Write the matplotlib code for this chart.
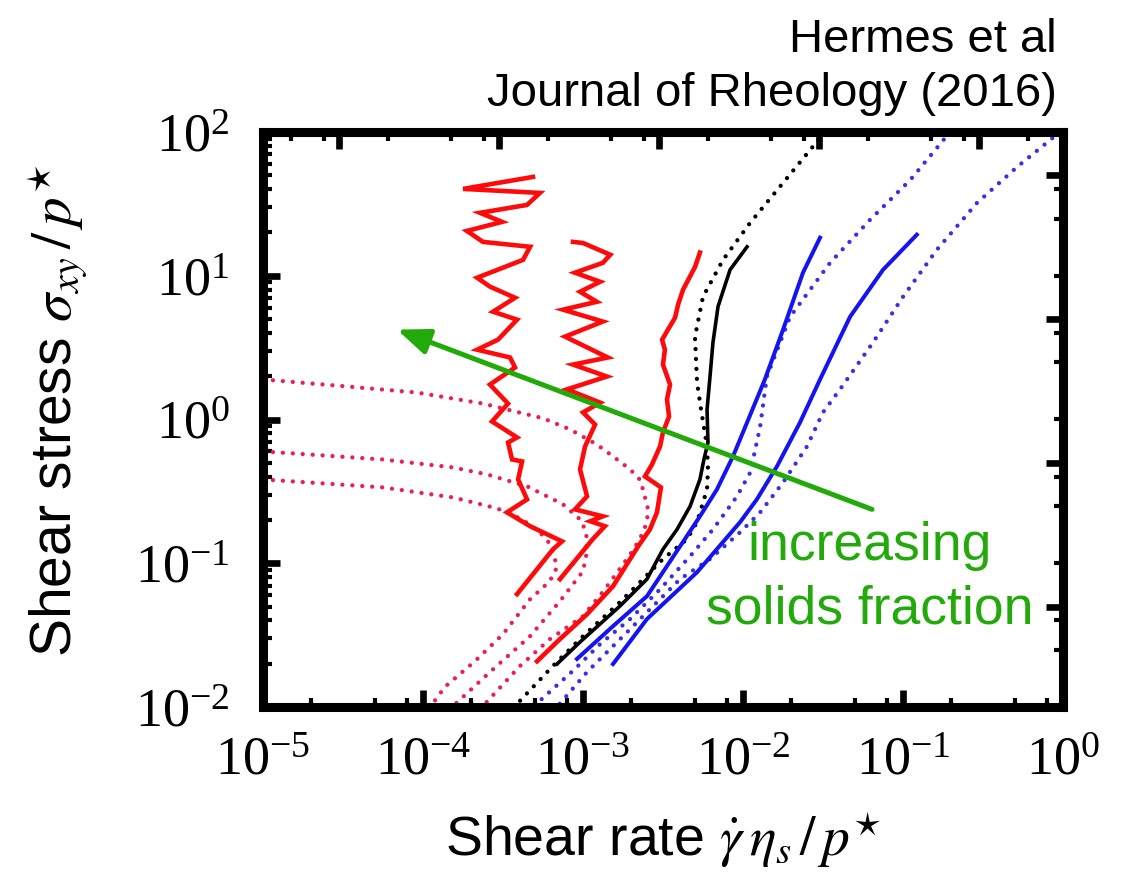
import numpy as np
import matplotlib
matplotlib.use("Agg")
import matplotlib.pyplot as plt
from matplotlib.ticker import LogLocator, NullFormatter

plt.rcParams['mathtext.fontset'] = 'stix'
plt.rcParams['font.family'] = ['Liberation Sans', 'DejaVu Sans']

# ---------------- data ----------------
# simulation flow curves (solid)
r1_x = [4.87e-4, 1.78e-4, 5.38e-4, 4.47e-4, 2.27e-4, 3.12e-4, 1.88e-4, 2.37e-4, 4.67e-4, 4.22e-4,
        2.18e-4, 2.62e-4, 3.76e-4, 2.74e-4, 3.87e-4, 2.94e-4, 2.18e-4, 3.50e-4, 3.76e-4, 2.62e-4,
        3.40e-4, 2.70e-4, 3.87e-4, 3.40e-4, 3.60e-4, 4.16e-4, 3.93e-4, 4.47e-4, 3.35e-4, 4.67e-4,
        7.39e-4, 6.49e-4, 3.87e-4]
r1_y = [48.7, 40.2, 37.7, 31.1, 27.4, 23.7, 20.5, 17.2, 15.9, 12.9,
        9.69, 8.40, 7.03, 5.62, 4.95, 3.59, 3.06, 2.70, 2.30, 1.75,
        1.29, 0.969, 0.750, 0.692, 0.527, 0.511, 0.383, 0.278, 0.226, 0.181,
        0.142, 0.125, 0.061]

r2_x = [8.66e-4, 1.0e-3, 1.48e-3, 1.33e-3, 8.91e-4, 1.28e-3, 9.58e-4, 1.22e-3, 7.50e-4, 1.33e-3,
        7.72e-4, 1.43e-3, 8.66e-4, 1.41e-3, 7.94e-4, 1.28e-3, 1.0e-3, 1.19e-3, 1.03e-3, 9.58e-4,
        1.06e-3, 8.91e-4, 1.33e-3, 1.11e-3, 1.37e-3, 1.15e-3, 7.18e-4]
r2_y = [17.2, 16.9, 14.0, 12.3, 10.5, 9.08, 7.74, 6.59, 5.81, 4.80,
        3.77, 2.70, 2.41, 1.99, 1.62, 1.31, 1.12, 0.923, 0.649, 0.450,
        0.292, 0.237, 0.212, 0.196, 0.181, 0.147, 0.0775]

r3_x = [5.38e-3, 5.01e-3, 4.22e-3, 3.93e-3, 3.76e-3, 3.12e-3, 3.25e-3, 3.16e-3, 3.50e-3, 3.35e-3,
        3.45e-3, 3.16e-3, 3.03e-3, 2.70e-3, 2.44e-3, 3.07e-3, 2.90e-3, 2.62e-3, 2.21e-3, 1.54e-3,
        1.06e-3, 7.18e-4, 5.16e-4]
r3_y = [14.5, 11.5, 8.0, 6.30, 5.11, 3.59, 3.06, 2.41, 1.75, 1.38,
        1.05, 0.813, 0.649, 0.487, 0.402, 0.337, 0.226, 0.172, 0.131, 0.0692,
        0.0442, 0.0297, 0.0208]

k_x = [1.06e-2, 8.30e-3, 6.98e-3, 6.49e-3, 6.22e-3, 5.96e-3, 6.04e-3, 5.70e-3, 5.38e-3, 4.67e-3,
       3.87e-3, 3.16e-3, 2.51e-3, 1.70e-3, 9.58e-4, 6.88e-4]
k_y = [15.9, 11.0, 6.10, 3.43, 1.99, 1.17, 0.692, 0.527, 0.383, 0.249,
       0.172, 0.125, 0.0775, 0.0503, 0.0283, 0.0199]

b1_x = [3.03e-2, 2.37e-2, 1.78e-2, 1.37e-2, 1.06e-2, 8.66e-3, 6.88e-3, 5.38e-3, 4.04e-3, 2.51e-3,
        1.54e-3, 9.17e-4]
b1_y = [18.4, 10.5, 4.22, 1.90, 0.953, 0.554, 0.327, 0.212, 0.131, 0.059, 0.0365, 0.0216]

b2_x = [0.122, 7.50e-2, 4.67e-2, 3.03e-2, 2.27e-2, 1.63e-2, 1.22e-2, 9.58e-3, 5.16e-3, 2.51e-3, 1.54e-3]
b2_y = [19.3, 11.0, 5.19, 1.90, 0.953, 0.472, 0.278, 0.193, 0.0866, 0.0409, 0.0199]

# model curves (dotted)
ra_x = [1e-5, 3.50e-5, 9.17e-5, 2.37e-4, 5.62e-4, 8.30e-4, 1.22e-3, 1.54e-3, 1.97e-3, 2.25e-3,
        2.37e-3, 2.55e-3, 2.52e-3, 2.44e-3, 2.25e-3, 1.97e-3, 1.37e-3, 1.0e-3, 6.22e-4, 4.04e-4, 2.34e-4]
ra_y = [1.90, 1.69, 1.54, 1.29, 1.02, 0.853, 0.670, 0.554, 0.450, 0.385,
        0.327, 0.237, 0.205, 0.178, 0.145, 0.115, 0.0659, 0.0428, 0.0297, 0.0193, 0.01]

rb_x = [1e-5, 5.62e-5, 1.54e-4, 2.51e-4, 4.47e-4, 7.50e-4, 9.58e-4, 1.03e-3, 1.06e-3, 1.05e-3,
        1.0e-3, 7.18e-4, 4.67e-4, 2.62e-4, 1.52e-4]
rb_y = [0.60, 0.527, 0.464, 0.415, 0.343, 0.257, 0.202, 0.172, 0.147, 0.115,
        0.0880, 0.0545, 0.0311, 0.0175, 0.01]

rc_x = [1e-5, 5.62e-5, 1.54e-4, 2.90e-4, 4.16e-4, 5.38e-4, 6.20e-4, 6.49e-4, 6.70e-4, 6.88e-4,
        6.20e-4, 4.67e-4, 3.16e-4, 2.11e-4, 1.37e-4, 1.11e-4]
rc_y = [0.383, 0.337, 0.287, 0.241, 0.202, 0.164, 0.137, 0.119, 0.105, 0.0938,
        0.0750, 0.0562, 0.0321, 0.0208, 0.0138, 0.01]

kd_x = [3.25e-2, 1.78e-2, 1.11e-2, 7.50e-3, 5.62e-3, 5.01e-3, 5.16e-3, 5.47e-3, 5.96e-3, 6.04e-3,
        5.96e-3, 5.16e-3, 4.47e-3, 3.16e-3, 2.27e-3, 1.70e-3, 9.58e-4, 6.49e-4, 3.71e-4]
kd_y = [100, 44.3, 23.4, 12.9, 7.14, 3.77, 1.81, 1.17, 0.649, 0.450,
        0.327, 0.193, 0.147, 0.107, 0.0738, 0.0536, 0.0297, 0.0193, 0.01]

b1d_x = [0.197, 0.111, 6.22e-2, 3.50e-2, 1.97e-2, 1.41e-2, 1.28e-2, 1.11e-2, 9.17e-3, 6.49e-3,
         4.67e-3, 3.03e-3, 1.97e-3, 1.28e-3, 8.91e-4, 4.87e-4]
b1d_y = [100, 46.4, 24.5, 12.3, 5.19, 1.99, 0.893, 0.428, 0.292, 0.172,
         0.112, 0.0659, 0.0409, 0.0274, 0.0184, 0.01]

b2d_x = [0.957, 0.516, 0.290, 0.163, 0.1, 6.49e-2, 4.04e-2, 3.16e-2, 2.51e-2, 1.78e-2,
         1.28e-2, 9.58e-3, 6.22e-3, 4.04e-3, 2.74e-3, 1.78e-3, 1.28e-3, 1.06e-3, 6.88e-4]
b2d_y = [100, 57.1, 32.1, 15.2, 7.14, 3.43, 1.62, 1.12, 0.649, 0.365,
         0.226, 0.164, 0.107, 0.0775, 0.0503, 0.0311, 0.0216, 0.0175, 0.01]

arrow_tail = (6.40e-2, 0.237)
arrow_tip = (6.88e-5, 4.22)

# ---------------- styling ----------------
RED = '#ff0a0a'
RED_DOT = '#ea1f55'
BLUE = '#1414f0'
BLUE_DOT = '#3b2fe6'
GREEN = '#22aa0a'
DOT = (0, (0.01, 2.3))
DOT_KW = dict(lw=3.1, ls=DOT, dash_capstyle='round')

fig = plt.figure(figsize=(11.28, 8.83), dpi=100)
ax = fig.add_axes([263 / 1128, 1 - 707 / 883, 800 / 1128, 575 / 883])
ax.set_xscale('log')
ax.set_yscale('log')
ax.set_xlim(1e-5, 1)
ax.set_ylim(1e-2, 1e2)

for xs, ys in [(ra_x, ra_y), (rb_x, rb_y), (rc_x, rc_y)]:
    ax.plot(xs, ys, color=RED_DOT, **DOT_KW)
ax.plot(kd_x, kd_y, color='black', **DOT_KW)
ax.plot(b1d_x, b1d_y, color=BLUE_DOT, **DOT_KW)
ax.plot(b2d_x, b2d_y, color=BLUE_DOT, **DOT_KW)

for xs, ys in [(r1_x, r1_y), (r2_x, r2_y), (r3_x, r3_y)]:
    ax.plot(xs, ys, color=RED, lw=3.3, solid_joinstyle='miter')
ax.plot(k_x, k_y, color='black', lw=2.6)
ax.plot(b1_x, b1_y, color=BLUE, lw=2.9)
ax.plot(b2_x, b2_y, color=BLUE, lw=2.9)

ax.annotate('', xy=arrow_tip, xytext=arrow_tail,
            arrowprops=dict(arrowstyle='-|>,head_length=0.75,head_width=0.3',
                            color=GREEN, lw=3.6, mutation_scale=26,
                            shrinkA=0, shrinkB=0))

# ticks
ax.xaxis.set_major_locator(LogLocator(base=10, numticks=20))
ax.xaxis.set_minor_locator(LogLocator(base=10, subs=(2, 5, 8), numticks=20))
ax.xaxis.set_minor_formatter(NullFormatter())
ax.yaxis.set_major_locator(LogLocator(base=10, numticks=20))
ax.yaxis.set_minor_locator(LogLocator(base=10, subs=np.arange(2, 10), numticks=20))
ax.yaxis.set_minor_formatter(NullFormatter())
ax.tick_params(which='both', direction='in', top=False, right=False)
ax.tick_params(which='major', length=12, width=4.8, labelsize=39, pad=21)
ax.tick_params(axis='y', which='major', pad=24)
ax.tick_params(which='minor', length=6.5, width=3)
for lab in ax.get_xticklabels() + ax.get_yticklabels():
    lab.set_fontfamily('Liberation Serif')
for sp in ax.spines.values():
    sp.set_linewidth(6.5)

secx = ax.secondary_xaxis('top', functions=(lambda x: x / 3.0, lambda x: x * 3.0))
secx.xaxis.set_major_locator(LogLocator(base=10, numticks=20))
secx.xaxis.set_minor_locator(LogLocator(base=10, subs=(2, 5, 8), numticks=20))
secx.tick_params(which='both', direction='in', labeltop=False)
secx.tick_params(which='major', length=12, width=4.8)
secx.tick_params(which='minor', length=6.5, width=3)
secx.spines['top'].set_linewidth(6.5)

secy = ax.secondary_yaxis('right', functions=(lambda y: y * 2.0, lambda y: y / 2.0))
secy.yaxis.set_major_locator(LogLocator(base=10, numticks=20))
secy.yaxis.set_minor_locator(LogLocator(base=10, subs=(2, 5, 8), numticks=20))
secy.tick_params(which='both', direction='in', labelright=False)
secy.tick_params(which='major', length=12, width=4.8)
secy.tick_params(which='minor', length=6.5, width=3)
secy.spines['right'].set_linewidth(6.5)

ax.set_xlabel(r'Shear rate $\dot{\gamma}\,\eta_s\,/\,p^{\star}$', fontsize=40)
ax.set_ylabel(r'Shear stress $\sigma_{xy}\,/\,p^{\star}$', fontsize=41)
ax.xaxis.set_label_coords(0.5, -0.18)
ax.yaxis.set_label_coords(-0.218, 0.515)

fig.text(870 / 1128, 1 - 560 / 883, 'increasing', color=GREEN, fontsize=38.5,
         ha='center', va='baseline')
fig.text(870 / 1128, 1 - 623 / 883, 'solids fraction', color=GREEN, fontsize=38.5,
         ha='center', va='baseline')
fig.text(1057 / 1128, 1 - 52 / 883, 'Hermes et al', fontsize=34, ha='right', va='baseline')
fig.text(1057 / 1128, 1 - 106 / 883, 'Journal of Rheology (2016)', fontsize=34,
         ha='right', va='baseline')

fig.savefig('out.png', dpi=100)
